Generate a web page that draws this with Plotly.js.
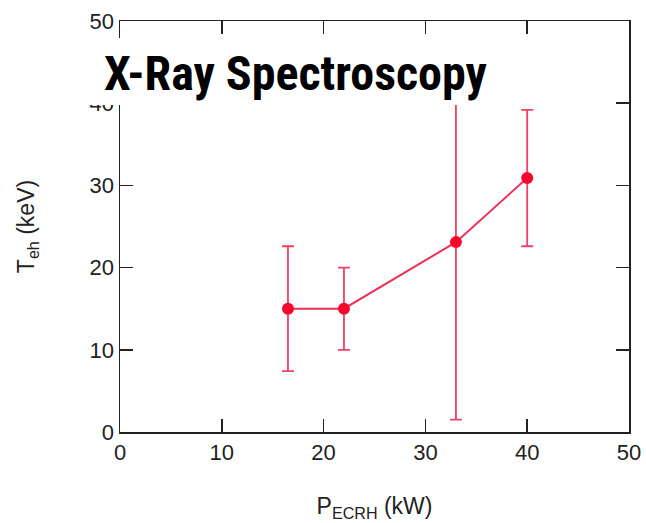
<!DOCTYPE html>
<html>
<head>
<meta charset="utf-8">
<script src="https://cdn.plot.ly/plotly-3.0.1.min.js"></script>
<style>html,body{margin:0;padding:0;background:#fff;}#chart{width:646px;height:523px;}</style>
</head>
<body>
<div id="chart"></div>
<script>
// Data
const powerKW = [16.5, 22.0, 33.0, 40.0];
const tempKeV = [15.0, 15.0, 23.1, 30.9];
const errKeV = [7.6, 5.0, 21.6, 8.3];
const xTicks = [0, 10, 20, 30, 40, 50];
const yTicks = [0, 10, 20, 30, 40, 50];

const trace = {
  x: powerKW,
  y: tempKeV,
  type: 'scatter',
  mode: 'lines+markers',
  line: {color: '#ee2f58', width: 2},
  marker: {color: '#f7072e', size: 12},
  error_y: {type: 'data', array: errKeV, visible: true, color: '#ef4068', thickness: 1.8, width: 6},
  showlegend: false,
  cliponaxis: true
};

const tickFont = {family: 'Liberation Sans, Arial, sans-serif', size: 22, color: '#222'};
const titleFont = {family: 'Liberation Sans, Arial, sans-serif', size: 23, color: '#222'};

const axisCommon = {
  showline: true, linecolor: '#222', linewidth: 1.5, mirror: 'ticks',
  ticks: 'inside', ticklen: 13, tickwidth: 1.5, tickcolor: '#222',
  showgrid: false, zeroline: false, tickfont: tickFont
};

const layout = {
  width: 646, height: 523,
  margin: {l: 120, r: 16.5, t: 21, b: 91.3},
  paper_bgcolor: '#fff', plot_bgcolor: '#fff',
  xaxis: Object.assign({}, axisCommon, {
    range: [0, 50], tickvals: xTicks, ticktext: xTicks.map(String),
    title: {text: 'P<sub>ECRH</sub> (kW)', font: titleFont, standoff: 34}
  }),
  yaxis: Object.assign({}, axisCommon, {
    range: [0, 50], tickvals: yTicks, ticktext: yTicks.map(String),
    title: {text: 'T<sub>eh</sub> (keV)', font: titleFont, standoff: 48}
  }),
  shapes: [{
    type: 'rect', xref: 'paper', yref: 'paper', layer: 'above',
    x0: -0.067, x1: 0.746, y0: 0.7955, y1: 0.9586,
    fillcolor: '#fff', line: {width: 0}
  }],
  annotations: [{
    text: 'X-Ray Spectroscopy', xref: 'paper', yref: 'paper',
    x: -0.036, y: 0.873, xanchor: 'left', yanchor: 'middle', showarrow: false,
    font: {family: 'Roboto Condensed, Open Sans Condensed, sans-serif', size: 48, color: '#000', weight: 'bold', stretch: 'condensed'}
  }]
};

Plotly.newPlot('chart', [trace], layout, {staticPlot: true, displayModeBar: false});
</script>
</body>
</html>
